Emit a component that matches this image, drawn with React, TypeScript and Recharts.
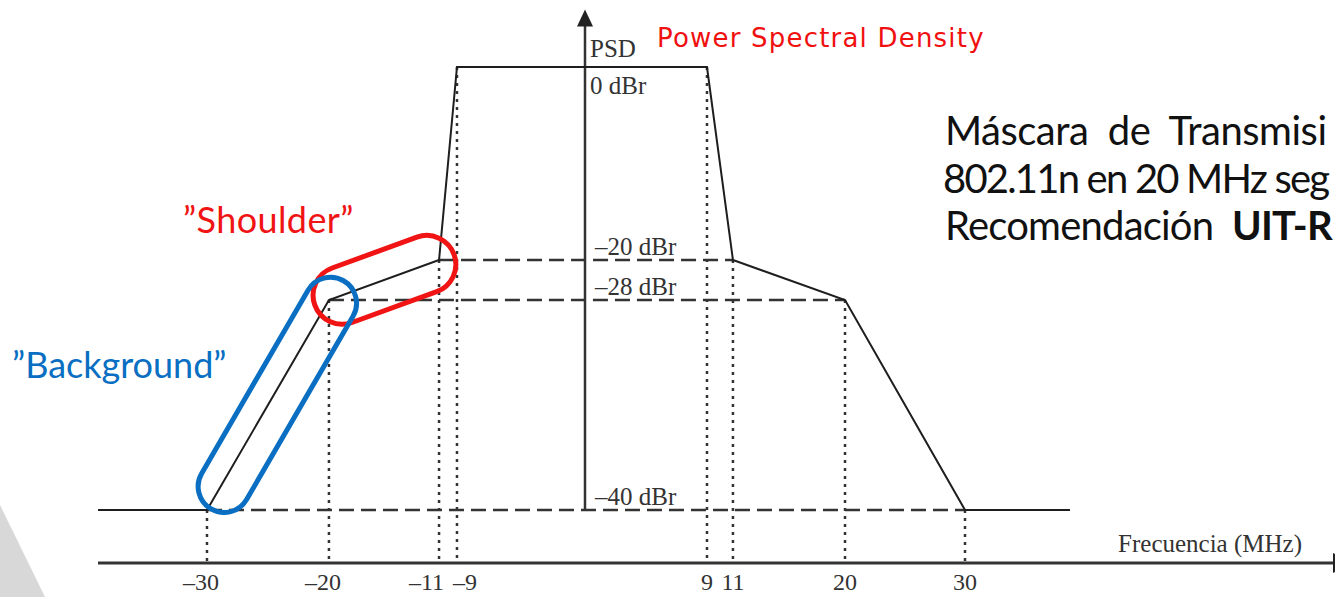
import React from 'react';
import { LineChart, Line, XAxis, YAxis, ReferenceLine, ReferenceDot } from 'recharts';

// spectral mask corners: frequency offset (MHz) and level (dBr)
const freqMHz = [-38, -30, -20, -11, -9, 9, 11, 20, 30, 38];
const maskDbr = [-40, -40, -28, -20, 0, 0, -20, -28, -40, -40];

const freqTicks = [-30, -20, -11, -9, 9, 11, 20, 30];
const freqTickLabels = ['–30', '–20', '–11', '–9', '9', '11', '20', '30'];

const levelTicks = [0, -20, -28, -40];
const levelLabels = ['0 dBr', '–20 dBr', '–28 dBr', '–40 dBr'];

// dashed guides (level, from, to)
const guideLevels = [-20, -28, -40];
const guideFrom = [-11, -20, -30];
const guideTo = [11, 20, 30];

// dotted drop lines from each corner down to the frequency axis
const dropLevels = [-40, -28, -20, 0, 0, -20, -28, -40];

// the drawing is a sketch, not to scale -> piecewise linear axes between these anchors
const xKnots = [-38, -30, -20, -11, -9, 0, 9, 11, 20, 30, 38, 59];
const xKnotPos = [0, 0.0881, 0.1867, 0.2757, 0.2902, 0.3937, 0.4923, 0.5133, 0.6039, 0.7009, 0.7858, 1];
const yKnots = [-43, -40, -28, -20, 0, 7];
const yKnotPos = [0, 0.0941, 0.4671, 0.5382, 0.881, 1];

const data = freqMHz.map((f, i) => ({ f, psd: maskDbr[i] }));

function sketchScale(knots: number[], pos: number[]): any {
  let dom = [knots[0], knots[knots.length - 1]];
  let rng = [0, 1];
  const frac = (v: number) => {
    const n = knots.length;
    let i = 0;
    while (i < n - 2 && v > knots[i + 1]) i++;
    const t = (v - knots[i]) / (knots[i + 1] - knots[i]);
    return pos[i] + t * (pos[i + 1] - pos[i]);
  };
  const scale: any = (v: number) => rng[0] + frac(Number(v)) * (rng[1] - rng[0]);
  scale.domain = (d?: any[]) => {
    if (d === undefined) return dom.slice();
    dom = d.map(Number);
    return scale;
  };
  scale.range = (r?: any[]) => {
    if (r === undefined) return rng.slice();
    rng = r.map(Number);
    return scale;
  };
  scale.copy = () => sketchScale(knots, pos).domain(dom).range(rng);
  scale.ticks = () => knots.slice();
  scale.tickFormat = () => (v: number) => String(v);
  scale.nice = () => scale;
  scale.clamp = () => scale;
  scale.invert = (px: number) => {
    const t = (px - rng[0]) / (rng[1] - rng[0]);
    let i = 0;
    while (i < pos.length - 2 && t > pos[i + 1]) i++;
    return knots[i] + ((t - pos[i]) / (pos[i + 1] - pos[i])) * (knots[i + 1] - knots[i]);
  };
  return scale;
}

const xScale = sketchScale(xKnots, xKnotPos);
const yScale = sketchScale(yKnots, yKnotPos);

const SERIF = '"Liberation Serif", "DejaVu Serif", serif';
const SANS = 'Lato, "Open Sans", sans-serif';

const FreqTick = ({ x, y, payload }: any) => {
  const i = freqTicks.indexOf(payload.value);
  let anchor = 'middle';
  let dx = payload.value < 0 ? -6 : 0;
  if (payload.value === -11) { anchor = 'end'; dx = 5; }
  if (payload.value === -9) { anchor = 'start'; dx = -4; }
  return (
    <text x={x + dx} y={y + 19} textAnchor={anchor} fontFamily={SERIF} fontSize={24} fill="#333">
      {freqTickLabels[i]}
    </text>
  );
};

// PSD axis with arrow on top
const ArrowAxis = (p: any) => {
  const x = p.x1;
  const top = Math.min(p.y1, p.y2);
  const bottom = Math.max(p.y1, p.y2);
  return (
    <g>
      <line x1={x} y1={bottom} x2={x} y2={top + 12} stroke="#333" strokeWidth={2.5} />
      <path d={`M${x},${top} L${x - 8},${top + 17} L${x + 8},${top + 17} Z`} fill="#222" />
    </g>
  );
};

const XArrow = (p: any) => (
  <path d={`M${p.cx - 2},${p.cy - 10} L${p.cx + 16},${p.cy} L${p.cx - 2},${p.cy + 10} Z`} fill="#222" />
);

// rounded highlight around a segment of the mask
const stadium = (color: string, r: number, padStart: number, padEnd: number, shift: number) => (p: any) => {
  const { x1, y1, x2, y2 } = p;
  const len = Math.hypot(x2 - x1, y2 - y1);
  const ang = (Math.atan2(y2 - y1, x2 - x1) * 180) / Math.PI;
  return (
    <rect
      x={x1 - padStart}
      y={y1 - r + shift}
      width={len + padStart + padEnd}
      height={2 * r}
      rx={r}
      ry={r}
      transform={`rotate(${ang} ${x1} ${y1})`}
      fill="none"
      stroke={color}
      strokeWidth={5}
    />
  );
};

const levelLabel = (i: number) => (p: any) => {
  const { x, y } = p.viewBox;
  if (levelTicks[i] === 0) {
    return (
      <g fontFamily={SERIF} fontSize={25} fill="#333">
        <text x={x + 5} y={y - 10}>PSD</text>
        <text x={x + 5} y={y + 27}>{levelLabels[i]}</text>
      </g>
    );
  }
  return (
    <text x={x + 10} y={y - 5} fontFamily={SERIF} fontSize={25} fill="#333">
      {levelLabels[i]}
    </text>
  );
};

const FreqLabel = (p: any) => {
  const { x, y, width } = p.viewBox;
  return (
    <text x={x + width - 33} y={y - 11} textAnchor="end" fontFamily={SERIF} fontSize={25} fill="#333">
      Frecuencia (MHz)
    </text>
  );
};

export default function App() {
  return (
    <div style={{ position: 'absolute', left: 0, top: 0, width: 1335, height: 597, overflow: 'hidden', background: '#fff' }}>
      <LineChart width={1335} height={597} data={data} margin={{ top: 0, right: 0, bottom: 0, left: 98 }}>
        <XAxis
          type="number"
          dataKey="f"
          domain={[-38, 59]}
          scale={xScale}
          allowDataOverflow
          ticks={freqTicks}
          interval={0}
          tickLine={false}
          tick={<FreqTick />}
          height={34}
          axisLine={{ stroke: '#333', strokeWidth: 3 }}
          label={<FreqLabel />}
        />
        <YAxis type="number" domain={[-43, 7]} scale={yScale} allowDataOverflow hide />

        {guideLevels.map((lv, i) => (
          <ReferenceLine
            key={`g${lv}`}
            segment={[{ x: guideFrom[i], y: lv }, { x: guideTo[i], y: lv }]}
            stroke="#333"
            strokeWidth={2.5}
            strokeDasharray="15 7"
          />
        ))}
        {freqTicks.map((f, i) => (
          <ReferenceLine
            key={`d${f}`}
            segment={[{ x: f, y: dropLevels[i] }, { x: f, y: -43 }]}
            stroke="#333"
            strokeWidth={2.5}
            strokeDasharray="3 5"
          />
        ))}
        <ReferenceLine segment={[{ x: 0, y: -40 }, { x: 0, y: 6 }]} shape={ArrowAxis} />

        <Line dataKey="psd" type="linear" dot={false} stroke="#1e1e1e" strokeWidth={2} isAnimationActive={false} />

        <ReferenceDot x={59} y={-43} r={0} shape={XArrow} isFront />
        {levelTicks.map((lv, i) => (
          <ReferenceDot key={`l${lv}`} x={0} y={lv} r={0} fill="none" stroke="none" isFront label={levelLabel(i)} />
        ))}

        <ReferenceLine
          segment={[{ x: -20, y: -28 }, { x: -11, y: -20 }]}
          shape={stadium('#f01414', 29, 15, 16, 0)}
          isFront
        />
        <ReferenceLine
          segment={[{ x: -30, y: -40 }, { x: -20, y: -28 }]}
          shape={stadium('#0a6fc2', 26, -3, 24, 3)}
          isFront
        />
      </LineChart>

      <svg width={1335} height={597} style={{ position: 'absolute', left: 0, top: 0, pointerEvents: 'none' }}>
        <polygon points="0,505 45,597 0,597" fill="#d8d8d8" />
        <text x={657} y={47} fontFamily='"DejaVu Sans", sans-serif' fontSize={26} letterSpacing={1.2} fill="#f01010">
          Power Spectral Density
        </text>
        <text x={183} y={233} fontFamily={SANS} fontSize={36} letterSpacing={0.4} fill="#f01414">”Shoulder”</text>
        <text x={12} y={378} fontFamily={SANS} fontSize={36} fill="#0a6fc2">”Background”</text>
        <g fontFamily={SANS} fontSize={40} fill="#111">
          <text x={945} y={145} xmlSpace="preserve" letterSpacing={-0.5}>Máscara  de  Transmisi</text>
          <text x={943} y={193} xmlSpace="preserve" letterSpacing={-1.8}>802.11n en 20 MHz seg</text>
          <text x={945} y={240} xmlSpace="preserve" letterSpacing={-0.8}>
            Recomendación  <tspan fontWeight="bold">UIT-R</tspan>
          </text>
        </g>
      </svg>
    </div>
  );
}
